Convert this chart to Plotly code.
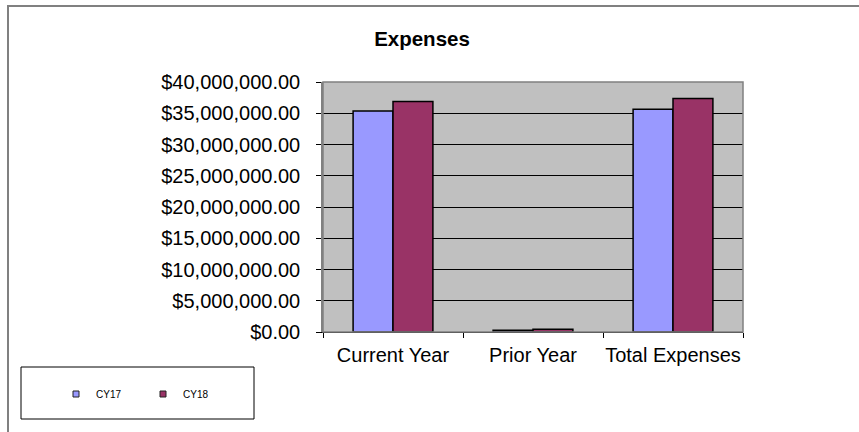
import plotly.graph_objects as go

categories = ["Current Year", "Prior Year", "Total Expenses"]
cy17 = [35350000, 300000, 35650000]
cy18 = [36900000, 450000, 37350000]
series_names = ["CY17", "CY18"]
series_colors = ["#9999FF", "#993366"]

W, H = 859, 432
L, R, T, B = 323, 743, 82, 332
pw, ph = R - L, B - T

def px(x):
    return (x - L) / pw

def py(y):
    return (B - y) / ph

fig = go.Figure()
for name, vals, col in zip(series_names, [cy17, cy18], series_colors):
    fig.add_trace(go.Bar(x=categories, y=vals, name=name, marker=dict(color=col, line=dict(color="black", width=1.5)),
                         showlegend=False))
    fig.add_trace(go.Scatter(x=[None], y=[None], mode="markers", name=name,
                             marker=dict(symbol="square", size=6, color=col, line=dict(color="#222", width=1))))

fig.update_layout(
    width=W, height=H,
    margin=dict(l=L, r=W - R, t=T, b=H - B),
    paper_bgcolor="white", plot_bgcolor="#C0C0C0",
    bargap=0.43, bargroupgap=0,
    font=dict(family="Liberation Sans, Arial, sans-serif", color="black"),
    title=dict(text="<b>Expenses</b>", x=px(422), xref="paper", xanchor="center",
               y=1 - 39 / H, yref="container", yanchor="middle", font=dict(size=20.5)),
    showlegend=True,
    legend=dict(orientation="h", x=px(56), xanchor="left", y=py(394), yanchor="middle",
                font=dict(size=10), bgcolor="rgba(0,0,0,0)", entrywidth=42, tracegroupgap=0),
)
fig.update_yaxes(range=[0, 40000000], dtick=5000000, tickformat="$,.2f", showgrid=True, gridcolor="black",
                 gridwidth=1, ticks="outside", ticklen=5, tickcolor="black", tickfont=dict(size=20),
                 showline=True, linecolor="#808080", linewidth=1.5, zeroline=False, ticklabelstandoff=12)
fig.update_xaxes(ticks="outside", ticklen=5, tickcolor="black", tickson="boundaries", tickfont=dict(size=20),
                 tickangle=0, showline=True, linecolor="black", linewidth=1, showgrid=False, ticklabelstandoff=5)

shapes = [
    dict(type="rect", xref="paper", yref="paper", x0=0, x1=1, y0=0, y1=1, line=dict(color="#808080", width=1.5),
         layer="above"),
    dict(type="rect", xref="paper", yref="paper", x0=px(8), x1=px(880), y0=py(460), y1=py(6),
         line=dict(color="#808080", width=2)),
    dict(type="rect", xref="paper", yref="paper", x0=px(21), x1=px(254), y0=py(419), y1=py(367),
         line=dict(color="black", width=1)),
]
fig.update_layout(shapes=shapes)

fig.write_html("out.html", config={"displayModeBar": False},
               post_script="document.body.style.margin='0px';")
